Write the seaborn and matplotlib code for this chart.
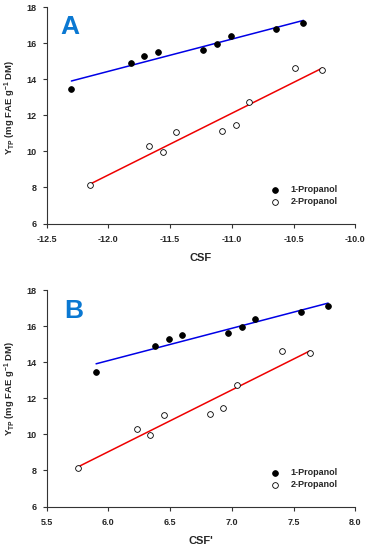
import matplotlib
matplotlib.use("Agg")
import matplotlib.pyplot as plt
import seaborn as sns
import numpy as np

sns.set_theme(style="ticks")
plt.rcParams['font.family'] = ['Liberation Sans', 'DejaVu Sans']
plt.rcParams['font.weight'] = 'bold'
plt.rcParams['mathtext.fontset'] = 'custom'
plt.rcParams['mathtext.rm'] = 'Liberation Sans:bold'
plt.rcParams['mathtext.bf'] = 'Liberation Sans:bold'
plt.rcParams['mathtext.default'] = 'bf'

# Panel A: CSF values
csf_1prop = [-12.30, -11.82, -11.71, -11.60, -11.23, -11.12, -11.01, -10.64, -10.42]
csf_2prop = [-12.15, -11.67, -11.56, -11.45, -11.08, -10.97, -10.86, -10.49, -10.27]
# Panel B: CSF' values
csfp_1prop = [5.90, 6.38, 6.49, 6.60, 6.97, 7.08, 7.19, 7.56, 7.78]
csfp_2prop = [5.75, 6.23, 6.34, 6.45, 6.82, 6.93, 7.04, 7.41, 7.63]
# Yields
y_1prop = [13.44, 14.89, 15.31, 15.50, 15.61, 15.94, 16.42, 16.78, 17.13]
y_2prop = [8.13, 10.31, 9.97, 11.09, 11.11, 11.44, 12.76, 14.63, 14.50]

panels = [
    dict(letter="A", x1=csf_1prop, x2=csf_2prop, xlabel="CSF", lx=0.043, ly=0.907,
         ylab_y=0.537,
         xlim=(-12.5, -10.0), xticks=[-12.5, -12.0, -11.5, -11.0, -10.5, -10.0]),
    dict(letter="B", x1=csfp_1prop, x2=csfp_2prop, xlabel="CSF'", lx=0.056, ly=0.903,
         ylab_y=0.547,
         xlim=(5.5, 8.0), xticks=[5.5, 6.0, 6.5, 7.0, 7.5, 8.0]),
]

fig = plt.figure(figsize=(3.67, 5.5), dpi=100)
W, H = 367, 550
rects = [
    [46.7 / W, 1 - 223.5 / H, 308.6 / W, 216.2 / H],
    [46.7 / W, 1 - 506.5 / H, 308.6 / W, 216.5 / H],
]

for rect, p in zip(rects, panels):
    ax = fig.add_axes(rect)
    sns.regplot(x=p["x1"], y=y_1prop, ax=ax, scatter=False, ci=None, truncate=True,
                line_kws=dict(color="#0000e6", lw=1.1))
    sns.regplot(x=p["x2"], y=y_2prop, ax=ax, scatter=False, ci=None, truncate=True,
                line_kws=dict(color="#ee0000", lw=1.1))
    sns.scatterplot(x=p["x1"], y=y_1prop, ax=ax, color="black", edgecolor="black",
                    s=17, linewidth=0.6, label="1-Propanol", zorder=3)
    sns.scatterplot(x=p["x2"], y=y_2prop, ax=ax, color="white", edgecolor="black",
                    s=17, linewidth=0.6, label="2-Propanol", zorder=3)
    ax.set_xlim(*p["xlim"])
    ax.set_ylim(6, 18)
    ax.set_xticks(p["xticks"])
    ax.set_xticklabels([f"{v:.1f}" for v in p["xticks"]])
    ax.set_yticks([6, 8, 10, 12, 14, 16, 18])
    sns.despine(ax=ax)
    for s in ["left", "bottom"]:
        ax.spines[s].set_color("#333333")
        ax.spines[s].set_linewidth(0.8)
    ax.tick_params(axis="both", direction="out", length=3, width=0.8, color="#333333",
                   labelsize=6.5, pad=4)
    ax.tick_params(axis="x", pad=5)
    for lab in ax.get_xticklabels() + ax.get_yticklabels():
        lab.set_fontweight("bold")
    ax.set_xlabel(p["xlabel"], fontsize=8, fontweight="bold", labelpad=7)
    ax.set_ylabel(r"Y$_{\mathbf{TP}}$ (mg FAE g$^{\mathbf{-1}}$ DM)", fontsize=6.8,
                  fontweight="bold")
    ax.yaxis.set_label_coords(-0.093, p["ylab_y"])
    ax.text(p["lx"], p["ly"], p["letter"], transform=ax.transAxes, fontsize=19,
            fontweight="bold", color="#0a78d2", ha="left", va="center")
    leg = ax.legend(loc="center", bbox_to_anchor=(0.835, 0.128), frameon=False,
                    fontsize=6.5, handlelength=1.0, handletextpad=1.2,
                    labelspacing=0.35, borderpad=0, borderaxespad=0)
    for t in leg.get_texts():
        t.set_fontweight("bold")

fig.savefig("out.png", dpi=100)
